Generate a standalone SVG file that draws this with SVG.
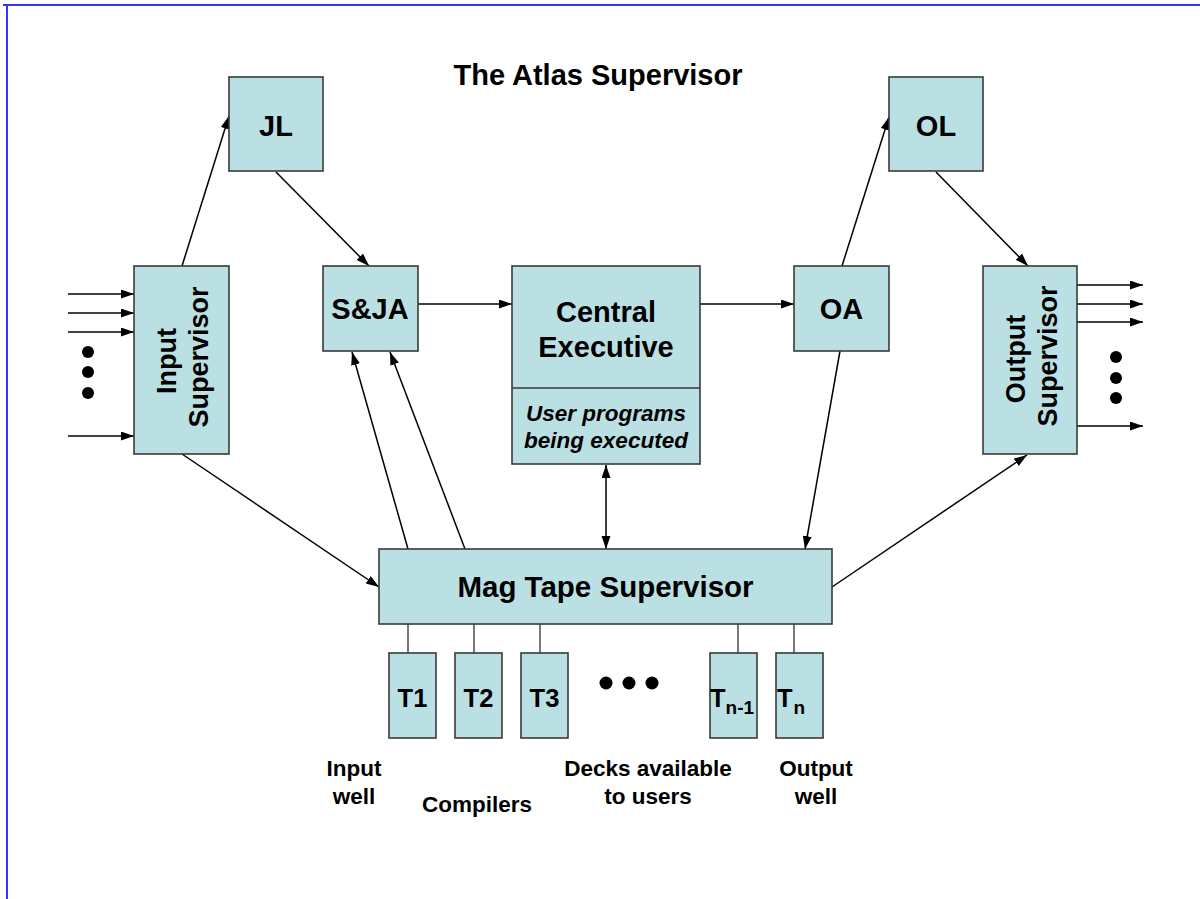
<svg xmlns="http://www.w3.org/2000/svg" width="1200" height="899" viewBox="0 0 1200 899">
<defs>
<style>
.box{fill:#BBE0E3;stroke:#3a3a3a;stroke-width:1.6}
.lbl{font-family:"Liberation Sans",Arial,sans-serif;font-weight:bold;fill:#000}
.c{stroke:#000;stroke-width:1.5;fill:none}
.tc{stroke:#4d4d4d;stroke-width:1.5;fill:none}
.dot{fill:#000}
</style>
<marker id="ah" markerUnits="userSpaceOnUse" markerWidth="14" markerHeight="10" refX="13" refY="4.5" orient="auto-start-reverse" viewBox="0 0 14 10">
<path d="M0,0 L13,4.5 L0,9 z" fill="#000"/>
</marker>
</defs>
<rect x="0" y="0" width="1200" height="899" fill="#fff"/>
<g id="frame">
<line x1="3" y1="5" x2="1200" y2="5" stroke="#3333ff" stroke-width="2"/>
<line x1="7" y1="4" x2="7" y2="899" stroke="#3333ff" stroke-width="2"/>
</g>
<text id="title" class="lbl" x="598" y="85" font-size="29" text-anchor="middle">The Atlas Supervisor</text>
<g id="connectors">
<line class="c" x1="68" y1="294" x2="134" y2="294" marker-end="url(#ah)"/>
<line class="c" x1="68" y1="313" x2="134" y2="313" marker-end="url(#ah)"/>
<line class="c" x1="68" y1="332" x2="134" y2="332" marker-end="url(#ah)"/>
<line class="c" x1="68" y1="436" x2="134" y2="436" marker-end="url(#ah)"/>
<line class="c" x1="1077" y1="285" x2="1143" y2="285" marker-end="url(#ah)"/>
<line class="c" x1="1077" y1="304" x2="1143" y2="304" marker-end="url(#ah)"/>
<line class="c" x1="1077" y1="322" x2="1143" y2="322" marker-end="url(#ah)"/>
<line class="c" x1="1077" y1="426" x2="1143" y2="426" marker-end="url(#ah)"/>
<line class="c" x1="182" y1="266" x2="229" y2="116" marker-end="url(#ah)"/>
<line class="c" x1="276" y1="172" x2="369" y2="266" marker-end="url(#ah)"/>
<line class="c" x1="418" y1="304" x2="512" y2="304" marker-end="url(#ah)"/>
<line class="c" x1="700" y1="304" x2="794" y2="304" marker-end="url(#ah)"/>
<line class="c" x1="842" y1="266" x2="889" y2="117" marker-end="url(#ah)"/>
<line class="c" x1="936" y1="172" x2="1028" y2="266" marker-end="url(#ah)"/>
<line class="c" x1="182" y1="454" x2="379" y2="587" marker-end="url(#ah)"/>
<line class="c" x1="408" y1="549" x2="352" y2="352" marker-end="url(#ah)"/>
<line class="c" x1="465" y1="549" x2="390" y2="352" marker-end="url(#ah)"/>
<line class="c" x1="606" y1="465" x2="606" y2="549" marker-start="url(#ah)" marker-end="url(#ah)"/>
<line class="c" x1="840" y1="351" x2="805" y2="549" marker-end="url(#ah)"/>
<line class="c" x1="832" y1="587" x2="1027" y2="455" marker-end="url(#ah)"/>
<line class="tc" x1="408" y1="624" x2="408" y2="653"/>
<line class="tc" x1="474" y1="624" x2="474" y2="653"/>
<line class="tc" x1="540" y1="624" x2="540" y2="653"/>
<line class="tc" x1="738" y1="624" x2="738" y2="653"/>
<line class="tc" x1="794" y1="624" x2="794" y2="653"/>
</g>
<g id="dots">
<circle class="dot" cx="88" cy="352" r="6"/>
<circle class="dot" cx="88" cy="372" r="6"/>
<circle class="dot" cx="88" cy="393" r="6"/>
<circle class="dot" cx="1116" cy="357" r="6"/>
<circle class="dot" cx="1116" cy="378" r="6"/>
<circle class="dot" cx="1116" cy="398" r="6"/>
<circle class="dot" cx="606" cy="683" r="6.5"/>
<circle class="dot" cx="629" cy="683" r="6.5"/>
<circle class="dot" cx="652" cy="683" r="6.5"/>
</g>
<g id="JL">
<rect class="box" x="229" y="77" width="94" height="94"/>
<text class="lbl" x="276" y="136" font-size="29" text-anchor="middle">JL</text>
</g>
<g id="OL">
<rect class="box" x="889" y="77" width="94" height="94"/>
<text class="lbl" x="936" y="136" font-size="29" text-anchor="middle">OL</text>
</g>
<g id="SJA">
<rect class="box" x="323" y="266" width="95" height="85"/>
<text class="lbl" x="370" y="319" font-size="29" text-anchor="middle">S&amp;JA</text>
</g>
<g id="OA">
<rect class="box" x="794" y="266" width="95" height="85"/>
<text class="lbl" x="841.5" y="319" font-size="29" text-anchor="middle">OA</text>
</g>
<g id="InputSupervisor">
<rect class="box" x="134" y="266" width="95" height="188"/>
<text class="lbl" font-size="27" text-anchor="middle" transform="translate(176,361) rotate(-90)">Input</text>
<text class="lbl" font-size="27" text-anchor="middle" transform="translate(208,357) rotate(-90)">Supervisor</text>
</g>
<g id="OutputSupervisor">
<rect class="box" x="983" y="266" width="94" height="188"/>
<text class="lbl" font-size="27" text-anchor="middle" transform="translate(1025,359) rotate(-90)">Output</text>
<text class="lbl" font-size="27" text-anchor="middle" transform="translate(1057,356) rotate(-90)">Supervisor</text>
</g>
<g id="CentralExecutive">
<rect class="box" x="512" y="266" width="188" height="198"/>
<line x1="512" y1="388" x2="700" y2="388" stroke="#3a3a3a" stroke-width="1.6"/>
<text class="lbl" x="606" y="322" font-size="29" text-anchor="middle">Central</text>
<text class="lbl" x="606" y="357" font-size="29" text-anchor="middle">Executive</text>
<text class="lbl" x="606" y="421" font-size="22.5" font-style="italic" text-anchor="middle">User programs</text>
<text class="lbl" x="606" y="448" font-size="22.5" font-style="italic" text-anchor="middle">being executed</text>
</g>
<g id="MagTapeSupervisor">
<rect class="box" x="379" y="549" width="453" height="75"/>
<text class="lbl" x="605.5" y="597" font-size="29.5" text-anchor="middle">Mag Tape Supervisor</text>
</g>
<g id="T1">
<rect class="box" x="389" y="653" width="47" height="85"/>
<text class="lbl" x="412.5" y="707" font-size="25.5" text-anchor="middle">T1</text>
</g>
<g id="T2">
<rect class="box" x="455" y="653" width="47" height="85"/>
<text class="lbl" x="478.5" y="707" font-size="25.5" text-anchor="middle">T2</text>
</g>
<g id="T3">
<rect class="box" x="521" y="653" width="47" height="85"/>
<text class="lbl" x="544.5" y="707" font-size="25.5" text-anchor="middle">T3</text>
</g>
<g id="Tn-1">
<rect class="box" x="710" y="653" width="47" height="85"/>
<text class="lbl" x="710" y="707" font-size="25.5">T<tspan font-size="19" dy="7">n-1</tspan></text>
</g>
<g id="Tn">
<rect class="box" x="776" y="653" width="47" height="85"/>
<text class="lbl" x="777" y="707" font-size="25.5">T<tspan font-size="19" dy="7" dx="1">n</tspan></text>
</g>
<g id="labels">
<text class="lbl" x="354" y="776" font-size="22.5" text-anchor="middle">Input</text>
<text class="lbl" x="354" y="804" font-size="22.5" text-anchor="middle">well</text>
<text class="lbl" x="477" y="812" font-size="22.5" text-anchor="middle">Compilers</text>
<text class="lbl" x="648" y="776" font-size="22.5" text-anchor="middle">Decks available</text>
<text class="lbl" x="648" y="804" font-size="22.5" text-anchor="middle">to users</text>
<text class="lbl" x="816" y="776" font-size="22.5" text-anchor="middle">Output</text>
<text class="lbl" x="816" y="804" font-size="22.5" text-anchor="middle">well</text>
</g>
</svg>
